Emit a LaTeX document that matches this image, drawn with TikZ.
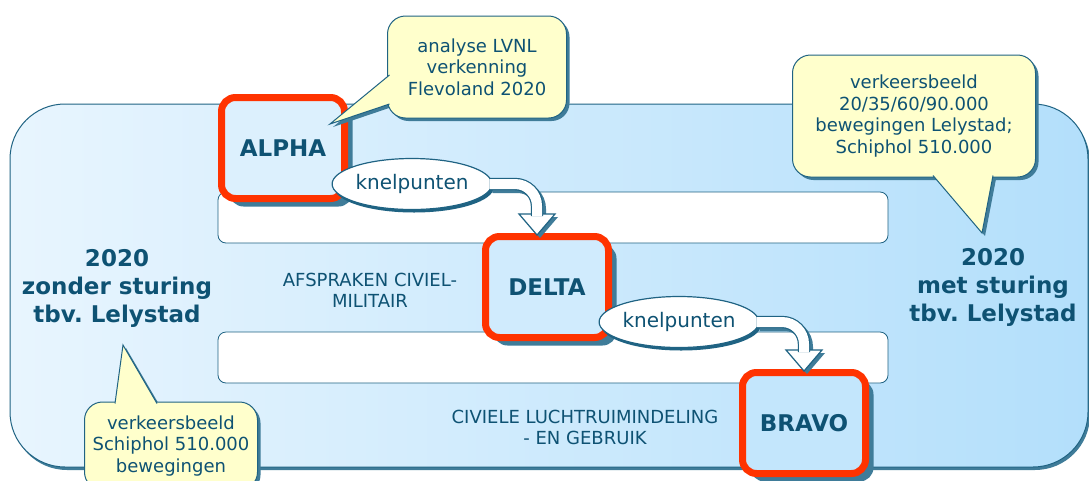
\documentclass[tikz,border=0pt]{standalone}
\usepackage{fontspec}
\setmainfont{DejaVu Sans}
\frenchspacing
\usetikzlibrary{shapes.geometric,shadows,calc}

\definecolor{ink}{HTML}{0E5273}
\definecolor{rim}{HTML}{1F6383}
\definecolor{signal}{HTML}{FF3300}
\definecolor{memo}{HTML}{FFFFCC}
\definecolor{pale}{HTML}{E8F5FE}
\definecolor{sky}{HTML}{B3DFFB}
\definecolor{dusk}{HTML}{3F7C99}

\begin{document}
\begin{tikzpicture}[x=1pt,y=-1pt]

\tikzstyle{phase} = [draw=signal, line width=7pt, rounded corners=14pt, minimum width=123pt, minimum height=101pt, inner sep=0pt, text=ink, font=\fontsize{23}{28}\selectfont\bfseries, drop shadow={shadow xshift=8pt, shadow yshift=-8pt, fill=dusk, opacity=1}]
\tikzstyle{bottleneck} = [ellipse, draw=rim, line width=1.2pt, fill=white, minimum width=155pt, minimum height=51pt, inner sep=0pt, text=ink, font=\fontsize{20}{24}\selectfont, drop shadow={shadow xshift=2pt, shadow yshift=-3pt, fill=rim, opacity=1}]
\tikzstyle{balloon} = [draw=rim, line width=1pt, fill=memo, rounded corners=18pt, align=center, text=ink, font=\fontsize{18}{21.5}\selectfont, drop shadow={shadow xshift=3pt, shadow yshift=-3pt, fill=dusk, opacity=1}]
\tikzstyle{heading} = [align=center, text=ink, font=\fontsize{23}{28}\selectfont\bfseries]
\tikzstyle{rowlabel} = [align=center, text=ink, font=\fontsize{18}{21}\selectfont]
\tikzstyle{band} = [draw=rim, line width=0.8pt, fill=white, rounded corners=8pt]
\tikzstyle{shaft} = [draw=rim, line width=1.2pt, double=white, double distance=10pt, rounded corners=22pt]
\tikzstyle{head} = [draw=rim, line width=1.2pt, fill=white, line join=miter]
\tikzstyle{ghost} = [transform canvas={shift={(3pt,-3pt)}}]

\useasboundingbox (0,0) rectangle (1089,480);

% background field and rows
\path[left color=pale, right color=sky, draw=rim, line width=1pt, rounded corners=55pt, drop shadow={shadow xshift=2pt, shadow yshift=-3pt, fill=dusk, opacity=1}] (10,104) rectangle (1088,467);
\draw[band] (218,192) rectangle (888,243);
\draw[band] (218,332) rectangle (888,383);

\node[heading] (h1) at (117,288) {2020\\zonder sturing\\tbv. Lelystad};
\node[heading] (h2) at (993,287) {2020\\met sturing\\tbv. Lelystad};
\node[rowlabel] (r1) at (370,290) {AFSPRAKEN CIVIEL-\\MILITAIR};
\node[rowlabel] (r2) at (585,427) {CIVIELE LUCHTRUIMINDELING\\- EN GEBRUIK};

\node[phase, fill=sky!22!pale] (alpha) at (283,148) {ALPHA};
\node[phase, fill=sky!45!pale] (delta) at (547,287) {DELTA};
\node[phase, fill=sky!70!pale] (bravo) at (804,423) {BRAVO};

\node[bottleneck] (k1) at (412,184) {knelpunten};
\node[bottleneck] (k2) at (679,322) {knelpunten};

% block arrows
\draw[ghost, dusk, line width=12pt, rounded corners=22pt] ([xshift=-3pt]k1.east) -| ($(delta.north)+(-10,-17)$);
\fill[ghost, dusk] ($(delta.north)+(-10,2)$) -- ++(-18,-21) -- ++(36,0) -- cycle;
\draw[head] ($(delta.north)+(-10,2)$) -- ++(-18,-21) -- ++(36,0) -- cycle;
\draw[shaft] ([xshift=-3pt]k1.east) -| ($(delta.north)+(-10,-17)$);

\draw[ghost, dusk, line width=12pt, rounded corners=22pt] ([xshift=-3pt]k2.east) -| ($(bravo.north)+(0,-17)$);
\fill[ghost, dusk] ($(bravo.north)+(0,2)$) -- ++(-18,-21) -- ++(36,0) -- cycle;
\draw[head] ($(bravo.north)+(0,2)$) -- ++(-18,-21) -- ++(36,0) -- cycle;
\draw[shaft] ([xshift=-3pt]k2.east) -| ($(bravo.north)+(0,-17)$);

% callouts
\coordinate (p1) at (330,124);
\fill[dusk] (392,78) -- (333,127) -- (392,107) -- cycle;
\node[balloon, minimum width=179pt, minimum height=102pt] (c1) at (477,67) {analyse LVNL\\verkenning\\Flevoland 2020};
\fill[memo] (389.5,75) -- (p1) -- (389.5,104) -- cycle;
\draw[rim, line width=1pt] (389.5,75) -- (p1) -- (389.5,104);

\coordinate (p2) at (982,233);
\fill[dusk] (936,179) -- (985,236) -- (996,179) -- cycle;
\node[balloon, minimum width=243pt, minimum height=122pt] (c2) at (914,116) {verkeersbeeld\\20/35/60/90.000\\bewegingen Lelystad;\\Schiphol 510.000};
\fill[memo] (933,175.5) -- (p2) -- (993,175.5) -- cycle;
\draw[rim, line width=1pt] (933,175.5) -- (p2) -- (993,175.5);

\coordinate (p3) at (123,345);
\fill[dusk] (118,406) -- (126,348) -- (160,406) -- cycle;
\node[balloon, minimum width=173pt, minimum height=88pt] (c3) at (171,446) {verkeersbeeld\\Schiphol 510.000\\bewegingen};
\fill[memo] (115,403.5) -- (p3) -- (157,403.5) -- cycle;
\draw[rim, line width=1pt] (115,403.5) -- (p3) -- (157,403.5);

\end{tikzpicture}
\end{document}
